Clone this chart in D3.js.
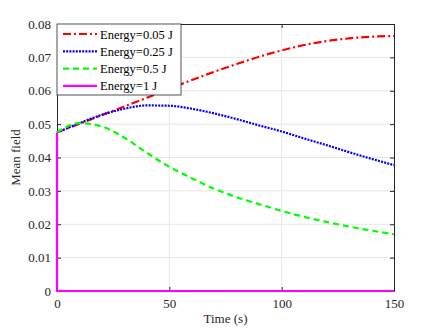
<!DOCTYPE html>
<html lang="en">
<head>
  <meta charset="UTF-8">
  <style>
    body { margin: 0; background: #fff; }
    svg text { font-family: "Liberation Serif", "Times New Roman", serif !important; }
    .grid line { stroke: #e6e6e6; stroke-width: 1; }
  </style>
  <script src="https://d3js.org/d3.v7.min.js"></script>
</head>
<body>
  <svg width="436" height="330" id="chart" font-family="Liberation Serif"></svg>
  <script>
    // time points (s)
    const times = [0, 10, 20, 30, 40, 50, 60, 70, 80, 90, 100, 110, 120, 130, 140, 150];

    // mean field for each energy level
    const e005 = [0.0475, 0.0501, 0.0527, 0.0553, 0.0579, 0.0606, 0.0632, 0.0657, 0.0680, 0.0702, 0.0721, 0.0737, 0.0749, 0.0757, 0.0762, 0.0764];
    const e025 = [0.0475, 0.0503, 0.0528, 0.0546, 0.0556, 0.0555, 0.0546, 0.0532, 0.0515, 0.0496, 0.0478, 0.0457, 0.0437, 0.0416, 0.0396, 0.0377];
    const e05  = [0.0475, 0.0503, 0.0493, 0.0459, 0.0414, 0.0372, 0.0338, 0.0306, 0.0281, 0.0260, 0.0240, 0.0222, 0.0207, 0.0193, 0.0181, 0.0170];
    // Energy=1 J drops to zero right at t=0
    const e1Times = [0, 0, 150];
    const e1 = [0.0475, 0, 0];

    const xTicks = [0, 50, 100, 150];
    const yTicks = [0, 0.01, 0.02, 0.03, 0.04, 0.05, 0.06, 0.07, 0.08];
    const labels = ["Energy=0.05 J", "Energy=0.25 J", "Energy=0.5 J", "Energy=1 J"];

    const pL = 57, pT = 24, pR = 394, pB = 291;
    const svg = d3.select("#chart");

    const x = d3.scaleLinear().domain([0, 150]).range([pL, pR]);
    const y = d3.scaleLinear().domain([0, 0.08]).range([pB, pT]);

    // grid
    const grid = svg.append("g").attr("class", "grid");
    grid.selectAll(".gx").data(xTicks.slice(1, -1)).enter().append("line")
      .attr("x1", d => x(d)).attr("x2", d => x(d)).attr("y1", pT).attr("y2", pB);
    grid.selectAll(".gy").data(yTicks.slice(1, -1)).enter().append("line")
      .attr("y1", d => y(d)).attr("y2", d => y(d)).attr("x1", pL).attr("x2", pR);

    // axes, ticks pointing inward
    const xAxis = d3.axisBottom(x).tickValues(xTicks).tickSizeInner(-4).tickSizeOuter(0).tickPadding(8);
    const yAxis = d3.axisLeft(y).tickValues(yTicks).tickSizeInner(-4).tickSizeOuter(0).tickPadding(6)
      .tickFormat(d => d === 0 ? "0" : d3.format(".2f")(d));

    const gx = svg.append("g").attr("transform", `translate(0,${pB})`).call(xAxis);
    const gy = svg.append("g").attr("transform", `translate(${pL},0)`).call(yAxis);
    const gx2 = svg.append("g").attr("transform", `translate(0,${pT})`)
      .call(d3.axisTop(x).tickValues(xTicks).tickSizeInner(-4).tickSizeOuter(0).tickFormat(""));
    const gy2 = svg.append("g").attr("transform", `translate(${pR},0)`)
      .call(d3.axisRight(y).tickValues(yTicks).tickSizeInner(-4).tickSizeOuter(0).tickFormat(""));

    [gx, gy, gx2, gy2].forEach(g => {
      g.attr("font-family", null).attr("font-size", 13);
      g.select(".domain").attr("stroke", "#262626").attr("stroke-width", 1);
      g.selectAll(".tick line").attr("stroke", "#262626");
      g.selectAll(".tick text").attr("fill", "#262626");
    });

    // curves
    const line = d3.line().x(d => x(d[0])).y(d => y(d[1])).curve(d3.curveMonotoneX);
    const straight = d3.line().x(d => x(d[0])).y(d => y(d[1]));
    const series = [
      { t: times, v: e005, color: "#ff0000", dash: "8,3,2,3" },
      { t: times, v: e025, color: "#0000ff", dash: "2,1.2" },
      { t: times, v: e05,  color: "#00ff00", dash: "6,4" },
      { t: e1Times, v: e1, color: "#ff00ff", dash: null }
    ];

    series.forEach((s, i) => {
      const pts = s.t.map((t, j) => [t, s.v[j]]);
      svg.append("path")
        .attr("d", i === 3 ? straight(pts) : line(pts))
        .attr("fill", "none")
        .attr("stroke", s.color)
        .attr("stroke-width", 2.2)
        .attr("stroke-dasharray", s.dash);
    });

    // legend
    const lg = svg.append("g");
    lg.append("rect").attr("x", pL).attr("y", pT).attr("width", 124).attr("height", 71)
      .attr("fill", "#fff").attr("stroke", "#262626").attr("stroke-width", 0.8);
    series.forEach((s, i) => {
      const ly = pT + 10 + i * 17.3;
      lg.append("line").attr("x1", pL + 6).attr("x2", pL + 40).attr("y1", ly).attr("y2", ly)
        .attr("stroke", s.color).attr("stroke-width", 2.2).attr("stroke-dasharray", s.dash);
      lg.append("text").attr("x", pL + 43).attr("y", ly + 4.5)
        .attr("font-size", 12.5).attr("fill", "#000").text(labels[i]);
    });

    // axis titles
    svg.append("text").attr("x", (pL + pR) / 2).attr("y", 323)
      .attr("text-anchor", "middle").attr("font-size", 13).attr("fill", "#262626").text("Time (s)");
    svg.append("text").attr("transform", `translate(20,${(pT + pB) / 2}) rotate(-90)`)
      .attr("text-anchor", "middle").attr("font-size", 13).attr("fill", "#262626").text("Mean field");
  </script>
</body>
</html>
